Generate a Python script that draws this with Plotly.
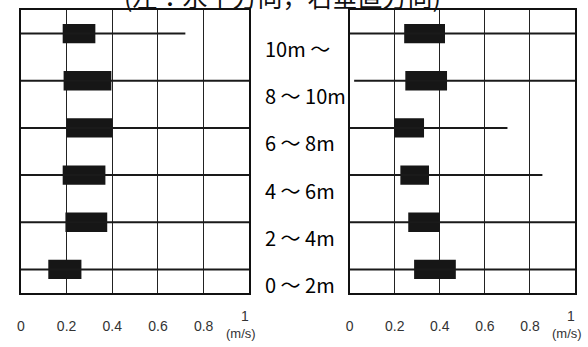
import plotly.graph_objects as go

# Rows, bottom to top
categories = ["0 ～ 2m", "2 ～ 4m", "4 ～ 6m", "6 ～ 8m", "8 ～ 10m", "10m ～"]

# Left panel: horizontal direction (m/s)
left_min = [0.0, 0.0, 0.0, 0.0, 0.0, 0.0]
left_q1 = [0.12, 0.195, 0.183, 0.20, 0.187, 0.183]
left_q3 = [0.265, 0.378, 0.37, 0.40, 0.396, 0.326]
left_max = [1.0, 1.0, 1.0, 1.0, 1.0, 0.72]

# Right panel: vertical direction (m/s)
right_min = [0.0, 0.0, 0.0, 0.0, 0.02, 0.0]
right_q1 = [0.286, 0.26, 0.225, 0.198, 0.247, 0.242]
right_q3 = [0.471, 0.40, 0.352, 0.330, 0.432, 0.423]
right_max = [1.0, 1.0, 0.855, 0.70, 1.0, 1.0]

tick_vals = [0, 0.2, 0.4, 0.6, 0.8]
tick_text = ["0", "0.2", "0.4", "0.6", "0.8"]
unit_label = "(m/s)"
title_text = "(左：水平方向，右垂直方向)"

W, H = 588, 347
fig = go.Figure()

def add_panel(mins, q1, q3, maxs, xa, ya):
    xs, ys = [], []
    for i in range(len(categories)):
        xs += [mins[i], maxs[i], None]
        ys += [i, i, None]
    fig.add_trace(go.Bar(
        y=list(range(len(categories))),
        x=[b - a for a, b in zip(q1, q3)],
        base=q1, orientation="h", width=0.41,
        marker=dict(color="#161616", line=dict(width=0)),
        xaxis=xa, yaxis=ya, showlegend=False, hoverinfo="skip"))
    fig.add_trace(go.Scatter(
        x=xs, y=ys, mode="lines",
        line=dict(color="#1a1a1a", width=2),
        xaxis=xa, yaxis=ya, showlegend=False, hoverinfo="skip"))

add_panel(left_min, left_q1, left_q3, left_max, "x", "y")
add_panel(right_min, right_q1, right_q3, right_max, "x2", "y2")

xcommon = dict(range=[0, 1], tickvals=tick_vals, ticktext=tick_text,
               showgrid=True, gridcolor="#222222", gridwidth=1.3,
               showline=True, linecolor="#111111", linewidth=1.6, mirror=True,
               zeroline=False, ticks="outside", ticklen=19,
               tickcolor="rgba(0,0,0,0)",
               tickfont=dict(family="Liberation Sans", size=14, color="#333333"))
ycommon = dict(range=[-0.5, len(categories) - 0.5], showgrid=False,
               showticklabels=False, showline=True, linecolor="#111111",
               linewidth=1.6, mirror=True, zeroline=False, ticks="")

ydom = [1 - 293 / H, 1 - 10 / H]
fig.update_layout(
    width=W, height=H,
    margin=dict(l=0, r=0, t=0, b=0),
    paper_bgcolor="white", plot_bgcolor="white",
    barmode="overlay",
    xaxis=dict(domain=[17 / W, 247 / W], anchor="y", **xcommon),
    yaxis=dict(domain=ydom, anchor="x", **ycommon),
    xaxis2=dict(domain=[348 / W, 575 / W], anchor="y2", **xcommon),
    yaxis2=dict(domain=ydom, anchor="x2", **ycommon),
)

annotations = []
# category labels between the panels
for i, c in enumerate(categories):
    annotations.append(dict(
        text=c, xref="paper", x=261 / W, xanchor="left",
        yref="y", y=i, yanchor="middle", yshift=-15, showarrow=False,
        font=dict(family="Noto Sans CJK JP", size=20, color="#000000")))
# "1" tick label and unit for each panel
for xr in ["x", "x2"]:
    annotations.append(dict(
        text="1", xref=xr, x=1, xanchor="center", xshift=-4,
        yref="paper", y=1 - 316 / H, yanchor="middle", showarrow=False,
        font=dict(family="Liberation Sans", size=14, color="#333333")))
    annotations.append(dict(
        text=unit_label, xref=xr, x=1, xanchor="center", xshift=-8,
        yref="paper", y=1 - 333 / H, yanchor="middle", showarrow=False,
        font=dict(family="Liberation Sans", size=13, color="#333333")))
# title, cut off at the top
annotations.append(dict(
    text=title_text, xref="paper", x=280 / W, xanchor="center",
    yref="paper", y=1 + 4 / H, yanchor="middle", showarrow=False,
    font=dict(family="Noto Sans CJK JP", size=25, color="#111111")))

fig.update_layout(annotations=annotations)
fig.write_html("out.html", config={"displayModeBar": False},
               post_script="document.body.style.margin='0';document.body.style.overflow='hidden';")
